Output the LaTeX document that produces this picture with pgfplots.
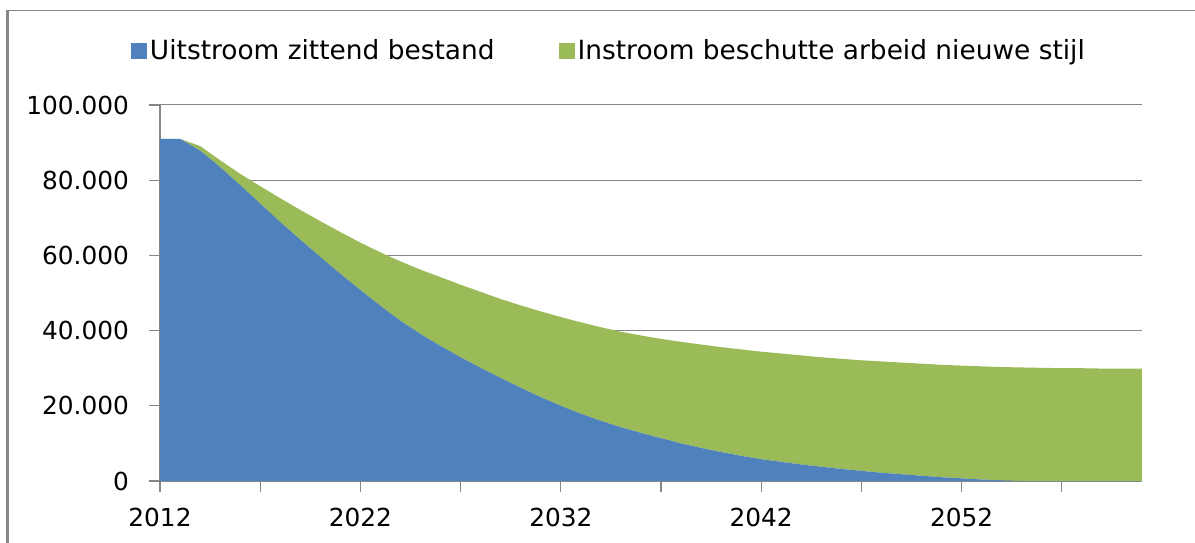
\documentclass[border=0pt]{standalone}
\usepackage{fontspec}
\setmainfont{DejaVu Sans}
\usepackage{pgfplots}
\usepackage{pgfplotstable}
\pgfplotsset{compat=1.18}
\definecolor{cblue}{HTML}{4F81BD}
\definecolor{cgreen}{HTML}{9BBB59}
\definecolor{cgray}{HTML}{868686}
\pgfplotsset{sqleg/.style={legend image code/.code={\fill[##1] (0pt,-4pt) rectangle (8pt,4pt);}}}
\pgfplotstableread{
year blue green
2012 91000 0
2013 91000 0
2014 87900 1200
2015 83500 1800
2016 78700 3000
2017 73800 4600
2018 68900 6300
2019 64200 7900
2020 59600 9500
2021 55100 11100
2022 50800 12600
2023 46600 14200
2024 42600 15800
2025 39100 17100
2026 35900 18300
2027 32900 19300
2028 30100 20200
2029 27400 21000
2030 24800 21900
2031 22300 22800
2032 20000 23600
2033 17900 24300
2034 16000 24900
2035 14300 25400
2036 12800 25900
2037 11400 26400
2038 10000 27000
2039 8800 27500
2040 7700 27900
2041 6700 28300
2042 5800 28600
2043 5100 28800
2044 4400 29000
2045 3800 29100
2046 3200 29300
2047 2700 29400
2048 2200 29600
2049 1800 29700
2050 1400 29800
2051 1000 29900
2052 700 30000
2053 400 30100
2054 150 30150
2055 0 30200
2056 0 30100
2057 0 30000
2058 0 30000
2059 0 29900
2060 0 29900
2061 0 29900
}\datatable
\begin{document}
\begin{tikzpicture}
\draw[cgray, line width=1.35pt] (-76.35pt,-31pt) -- (-76.35pt,235.25pt);
\draw[cgray, line width=0.5pt] (-77pt,235.25pt) -- (518pt,235.25pt);
\begin{axis}[
  at={(0pt,0pt)}, anchor=south west,
  scale only axis, width=491pt, height=188pt,
  set layers,
  axis on top=false,
  xmin=2012, xmax=2061, ymin=0, ymax=100000,
  axis lines*=left,
  axis line style={cgray, line width=0.8pt},
  tick align=outside,
  tick style={cgray, line width=0.6pt},
  major tick length=5.5pt, minor tick length=5.5pt,
  xtick={2012,2022,2032,2042,2052},
  xticklabels={2012,2022,2032,2042,2052},
  minor xtick={2017,2027,2037,2047,2057},
  ytick={0,20000,40000,60000,80000,100000},
  yticklabels={0,20.000,40.000,60.000,80.000,100.000},
  scaled y ticks=false,
  ymajorgrids,
  grid style={cgray, line width=0.5pt},
  ticklabel style={font=\fontsize{12.4}{14}\selectfont},
  xticklabel style={yshift=-4.5pt},
  yticklabel style={xshift=-6.5pt},
  stack plots=y,
  sqleg,
  legend columns=2,
  legend style={at={(-0.02994,1.14441)}, anchor=west,
    draw=none, fill=none, inner sep=0pt, font=\fontsize{13.2}{15}\selectfont,
    nodes={inner xsep=1.5pt},
    /tikz/every even column/.append style={column sep=30.5pt}},
]
\addplot[fill=cblue, draw=none] table[x=year, y=blue] {\datatable} \closedcycle;
\addlegendentry{Uitstroom zittend bestand}
\addplot[fill=cgreen, draw=none] table[x=year, y=green] {\datatable} \closedcycle;
\addlegendentry{Instroom beschutte arbeid nieuwe stijl}
\draw[cgray, line width=0.8pt] (rel axis cs:0,1) -- (rel axis cs:0,0) -- (rel axis cs:1,0);
\end{axis}
\pgfresetboundingbox
\useasboundingbox (-80pt,-30.5pt) rectangle (517.5pt,240.5pt);
\end{tikzpicture}
\end{document}
